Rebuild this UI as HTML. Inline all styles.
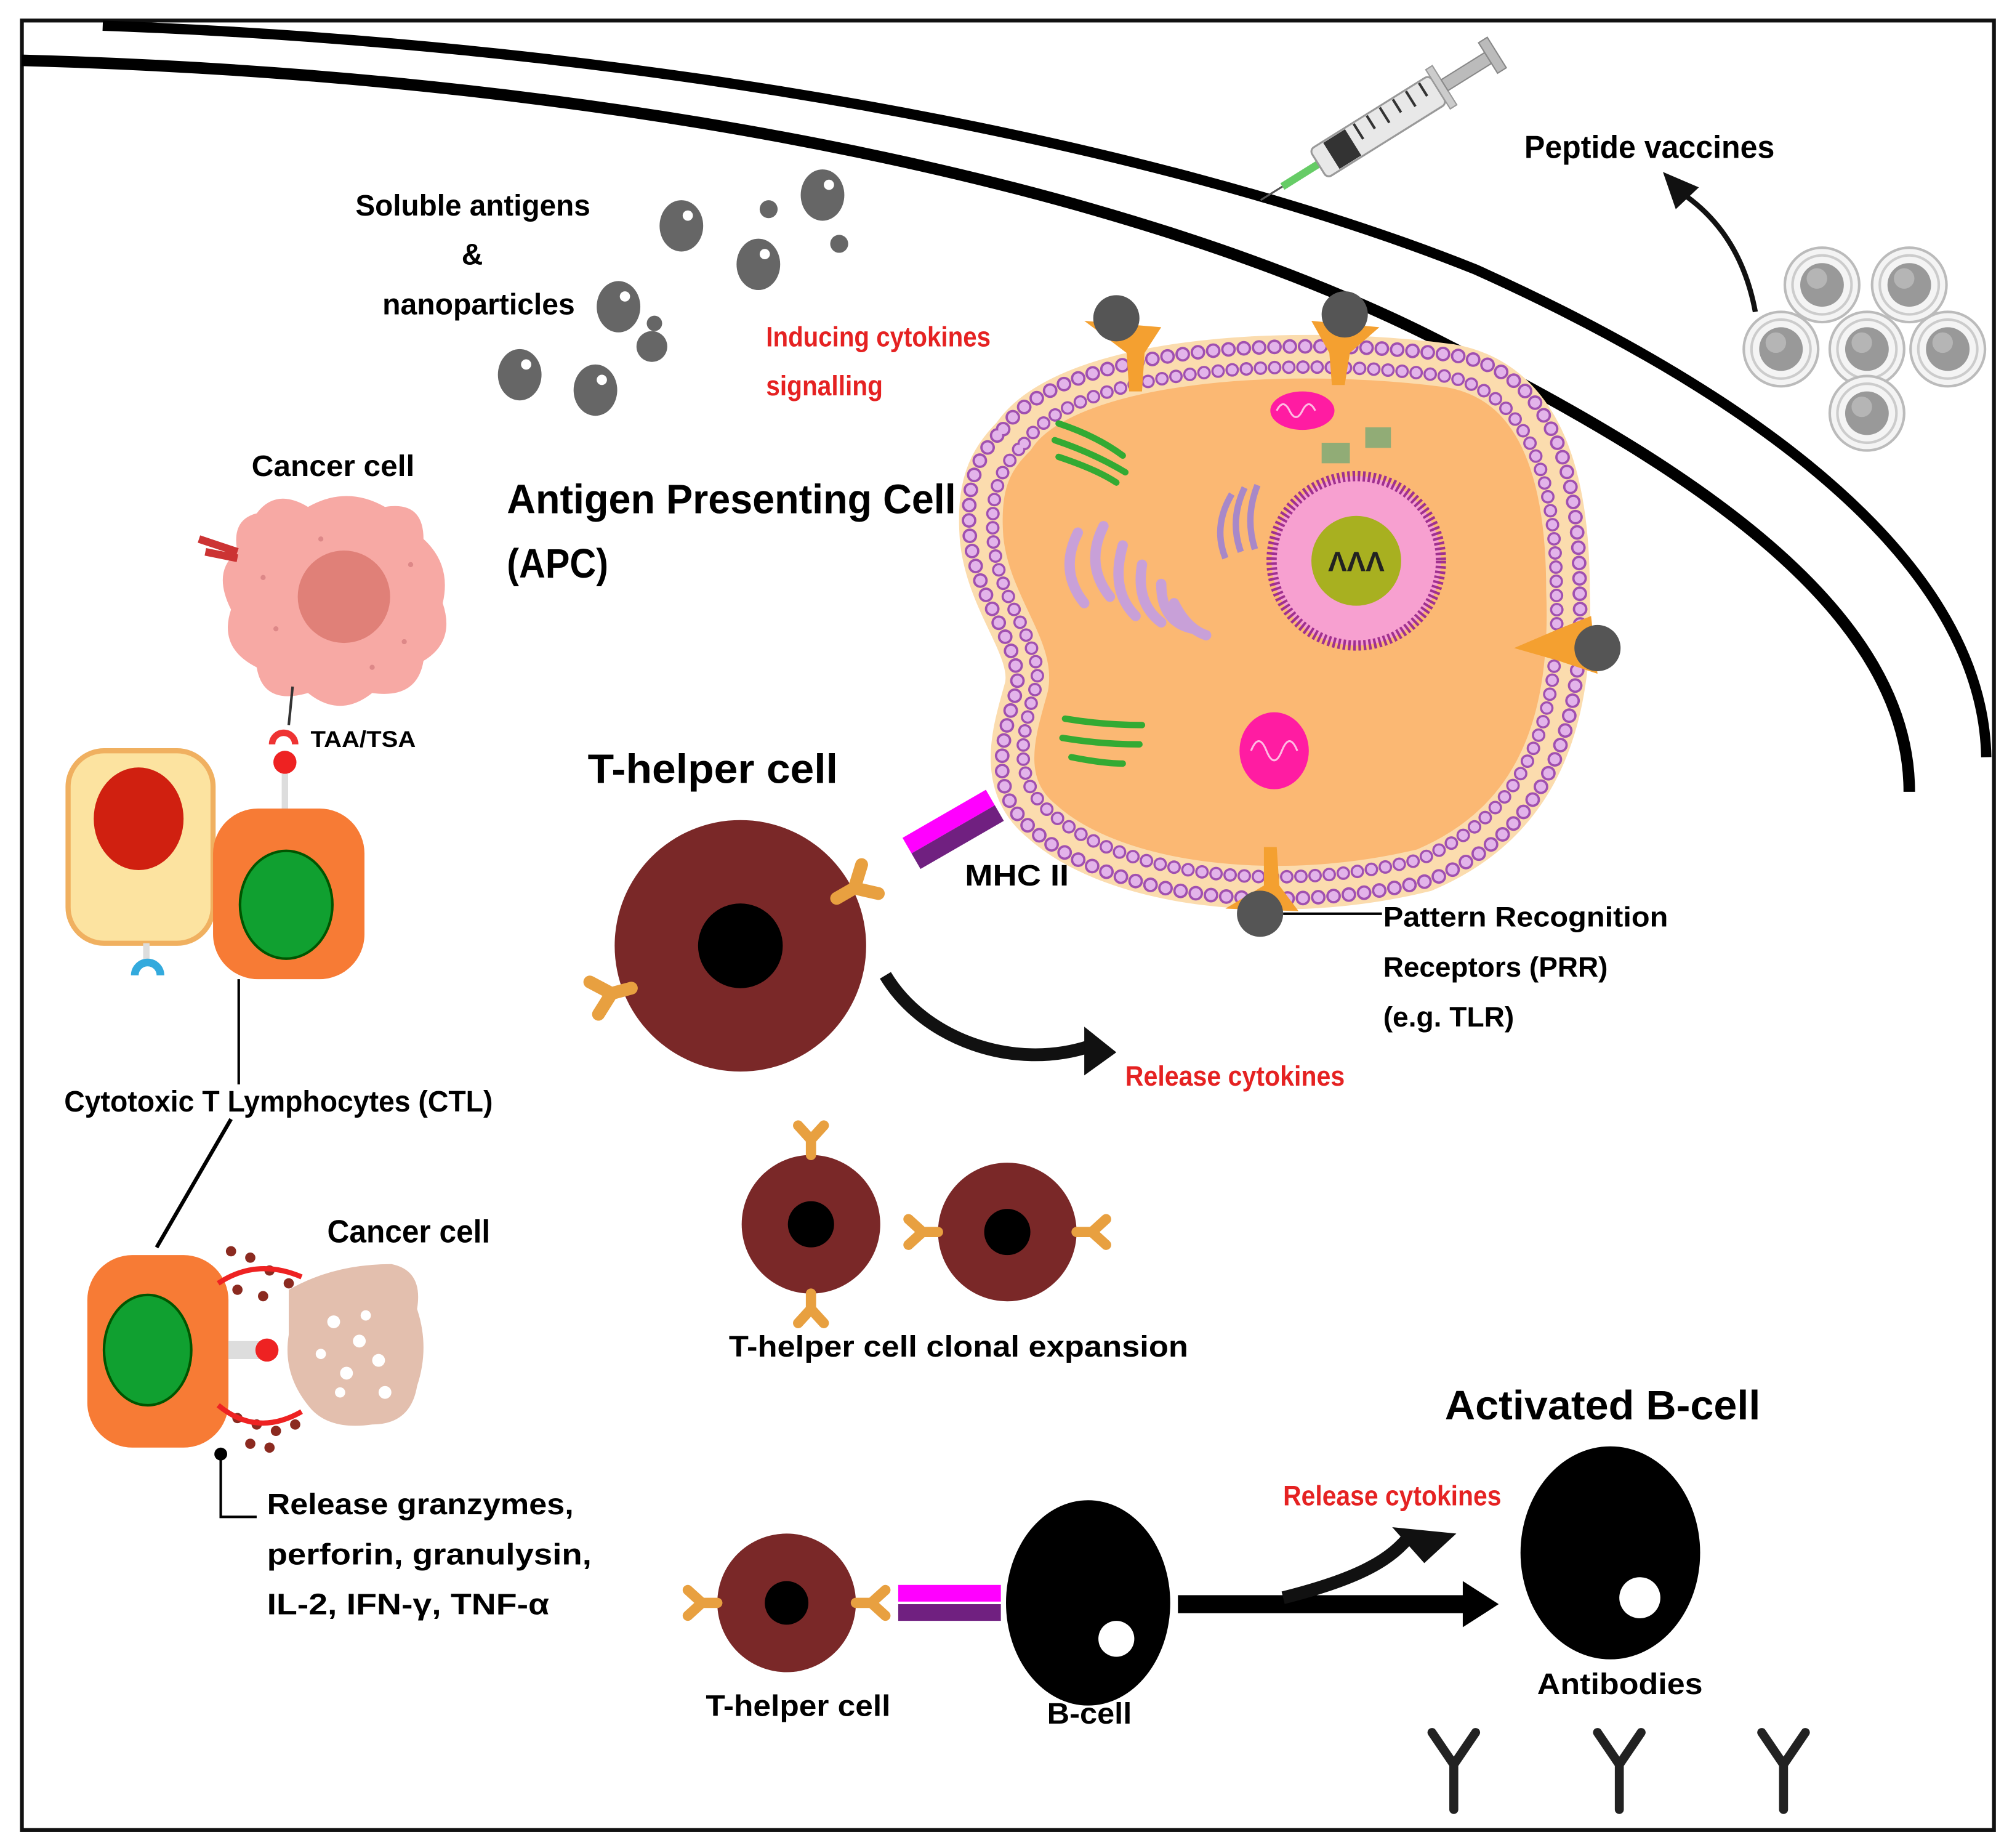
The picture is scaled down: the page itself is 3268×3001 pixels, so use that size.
<!DOCTYPE html>
<html><head><meta charset="utf-8"><style>
html,body{margin:0;padding:0;background:#fff;}
svg{display:block;}
text{font-family:"Liberation Sans Narrow","Liberation Sans",sans-serif;font-weight:bold;}
</style></head><body>
<svg width="3268" height="3001" viewBox="0 0 1568 1440" xmlns="http://www.w3.org/2000/svg">
<defs>
<g id="yr"><path d="M0,0 v-16 M0,-16 l-13,-14 M0,-16 l13,-14" fill="none" stroke="#e8a040" stroke-width="10" stroke-linecap="round"/></g>
<g id="ys"><path d="M0,0 v-12 M0,-12 l-10,-11 M0,-12 l10,-11" fill="none" stroke="#e8a040" stroke-width="8" stroke-linecap="round"/></g>
<g id="vp"><circle r="29" fill="#f4f4f4" stroke="#bbb" stroke-width="2"/><circle r="23" fill="none" stroke="#ccc" stroke-width="2"/><circle r="17" fill="#999"/><circle cx="-4" cy="-5" r="8" fill="#b5b5b5"/></g>
</defs>
<rect x="0" y="0" width="1568" height="1440" fill="#fff"/>
<rect x="17" y="16" width="1537" height="1410" fill="none" stroke="#111" stroke-width="3"/>
<!-- arcs -->
<path d="M80,20 C500,35 900,110 1150,210 C1350,300 1545,430 1548,590" fill="none" stroke="#000" stroke-width="8"/>
<path d="M17,47 C500,60 900,150 1130,270 C1330,370 1488,480 1488,617" fill="none" stroke="#000" stroke-width="9"/>
<!-- syringe -->
<g transform="translate(1080,95) rotate(-32)">
<line x1="-60" y1="0" x2="-95" y2="0" stroke="#6c6" stroke-width="6"/>
<line x1="-95" y1="0" x2="-115" y2="0" stroke="#555" stroke-width="1.5"/>
<rect x="-62" y="-13" width="110" height="26" rx="4" fill="#e8e8e8" stroke="#999" stroke-width="1.5"/>
<rect x="-50" y="-12" width="20" height="24" fill="#333"/>
<g stroke="#333" stroke-width="2"><line x1="-22" y1="-12" x2="-22" y2="2"/><line x1="-10" y1="-12" x2="-10" y2="0"/><line x1="2" y1="-12" x2="2" y2="2"/><line x1="14" y1="-12" x2="14" y2="0"/><line x1="26" y1="-12" x2="26" y2="2"/><line x1="38" y1="-12" x2="38" y2="0"/></g>
<rect x="48" y="-18" width="6" height="36" fill="#ccc" stroke="#999"/>
<rect x="54" y="-5" width="40" height="10" fill="#bbb" stroke="#888"/>
<rect x="94" y="-14" width="8" height="28" fill="#bbb" stroke="#888"/>
</g>
<text x="1188" y="123" font-size="25" textLength="195" lengthAdjust="spacingAndGlyphs">Peptide vaccines</text>
<path d="M1368,243 C1360,200 1340,170 1310,150" fill="none" stroke="#111" stroke-width="4"/>
<polygon points="1296,134 1324,146 1306,163" fill="#111"/>
<use href="#vp" x="1420" y="222"/><use href="#vp" x="1488" y="222"/>
<use href="#vp" x="1388" y="272"/><use href="#vp" x="1455" y="272"/><use href="#vp" x="1518" y="272"/>
<use href="#vp" x="1455" y="322"/>
<!-- soluble antigens -->
<text x="277" y="168" font-size="23" textLength="183" lengthAdjust="spacingAndGlyphs">Soluble antigens</text>
<text x="368" y="206" font-size="23" text-anchor="middle">&amp;</text>
<text x="298" y="245" font-size="23" textLength="150" lengthAdjust="spacingAndGlyphs">nanoparticles</text>
<g fill="#666">
<ellipse cx="531" cy="176" rx="17" ry="20"/><ellipse cx="641" cy="152" rx="17" ry="20"/><ellipse cx="591" cy="206" rx="17" ry="20"/>
<ellipse cx="482" cy="239" rx="17" ry="20"/><ellipse cx="405" cy="292" rx="17" ry="20"/><ellipse cx="464" cy="304" rx="17" ry="20"/>
<circle cx="599" cy="163" r="7"/><circle cx="654" cy="190" r="7"/><circle cx="510" cy="252" r="6"/><circle cx="508" cy="270" r="12"/>
</g>
<g fill="#fff"><circle cx="536" cy="168" r="4"/><circle cx="646" cy="144" r="4"/><circle cx="596" cy="198" r="4"/><circle cx="487" cy="231" r="4"/><circle cx="410" cy="284" r="4"/><circle cx="469" cy="296" r="4"/></g>
<text x="597" y="270" font-size="22" fill="#e52222" font-weight="normal" textLength="175" lengthAdjust="spacingAndGlyphs">Inducing cytokines</text>
<text x="597" y="308" font-size="22" fill="#e52222" font-weight="normal" textLength="91" lengthAdjust="spacingAndGlyphs">signalling</text>
<text x="395" y="400" font-size="32" textLength="350" lengthAdjust="spacingAndGlyphs">Antigen Presenting Cell</text>
<text x="395" y="450" font-size="32" textLength="79" lengthAdjust="spacingAndGlyphs">(APC)</text>
<!-- APC -->
<g>
<path d="M790,340 C830,280 1000,268 1130,285 C1205,298 1222,380 1222,460 C1226,560 1200,640 1110,678 C1000,705 870,692 812,640 C775,610 792,565 800,535 C806,505 770,470 765,420 C762,380 770,360 790,340 Z" fill="#fbb873" stroke="#fbdcae" stroke-width="34"/>
<g transform="translate(995,480) scale(1.04) translate(-995,-480)"><path d="M790,340 C830,280 1000,268 1130,285 C1205,298 1222,380 1222,460 C1226,560 1200,640 1110,678 C1000,705 870,692 812,640 C775,610 792,565 800,535 C806,505 770,470 765,420 C762,380 770,360 790,340 Z" fill="none" stroke="#a050b0" stroke-width="11" stroke-dasharray="0 11.5" stroke-linecap="round"/><path d="M790,340 C830,280 1000,268 1130,285 C1205,298 1222,380 1222,460 C1226,560 1200,640 1110,678 C1000,705 870,692 812,640 C775,610 792,565 800,535 C806,505 770,470 765,420 C762,380 770,360 790,340 Z" fill="none" stroke="#e3b4ea" stroke-width="7.5" stroke-dasharray="0 11.5" stroke-linecap="round"/></g>
<g transform="translate(995,480) scale(0.96) translate(-995,-480)"><path d="M790,340 C830,280 1000,268 1130,285 C1205,298 1222,380 1222,460 C1226,560 1200,640 1110,678 C1000,705 870,692 812,640 C775,610 792,565 800,535 C806,505 770,470 765,420 C762,380 770,360 790,340 Z" fill="none" stroke="#a050b0" stroke-width="11" stroke-dasharray="0 11.5" stroke-linecap="round"/><path d="M790,340 C830,280 1000,268 1130,285 C1205,298 1222,380 1222,460 C1226,560 1200,640 1110,678 C1000,705 870,692 812,640 C775,610 792,565 800,535 C806,505 770,470 765,420 C762,380 770,360 790,340 Z" fill="none" stroke="#e3b4ea" stroke-width="7.5" stroke-dasharray="0 11.5" stroke-linecap="round"/></g>
</g>
<!-- organelles -->
<ellipse cx="1015" cy="320" rx="25" ry="15" fill="#f0a" opacity=".85"/>
<ellipse cx="993" cy="585" rx="27" ry="30" fill="#f0a" opacity=".85"/>
<g fill="none" stroke="#fff" stroke-width="1.5" opacity=".7"><path d="M995,320 q5,-10 10,0 q5,10 10,0 q5,-10 10,0"/><path d="M975,585 q6,-15 12,0 q6,15 12,0 q6,-15 12,0"/></g>
<g fill="none" stroke="#3a3" stroke-width="5" stroke-linecap="round">
<path d="M825,330 q30,10 50,25"/><path d="M822,343 q30,10 55,25"/><path d="M825,356 q30,10 45,20"/>
<path d="M830,560 q30,5 60,5"/><path d="M828,575 q30,5 60,5"/><path d="M835,590 q25,5 40,5"/>
</g>
<g fill="#7a7" opacity=".8"><rect x="1030" y="345" width="22" height="16"/><rect x="1064" y="333" width="20" height="16"/></g>
<g fill="none" stroke="#c8a0d8" stroke-width="8" stroke-linecap="round">
<path d="M840,415 q-15,30 5,55"/><path d="M860,410 q-15,30 5,55"/><path d="M875,425 q-10,35 10,55"/><path d="M890,440 q-5,30 15,45"/><path d="M905,455 q0,30 25,35"/><path d="M915,470 q10,20 25,25"/>
</g>
<g fill="none" stroke="#a888c8" stroke-width="5">
<path d="M960,385 q-15,25 -5,50"/><path d="M970,380 q-12,25 -3,50"/><path d="M980,378 q-10,25 -2,50"/>
</g>
<circle cx="1057" cy="437" r="66" fill="#f7a0d0" stroke="#a03090" stroke-width="8" stroke-dasharray="2 2"/>
<circle cx="1057" cy="437" r="35" fill="#a8b020"/>
<text x="1057" y="445" font-size="22" text-anchor="middle" fill="#222" font-weight="normal">ΛΛΛ</text>
<!-- PRRs -->
<g fill="#f4a030">
<path d="M845,250 L905,255 L892,275 L890,305 L880,305 L878,275 Z"/>
<path d="M1022,250 L1075,255 L1052,275 L1048,300 L1038,300 L1036,275 Z"/>
<path d="M1180,505 L1215,490 L1240,480 L1245,525 L1215,515 Z"/>
<path d="M955,708 L985,690 L985,660 L995,660 L997,690 L1012,710 Z"/>
</g>
<g fill="#555"><circle cx="870" cy="248" r="18"/><circle cx="1048" cy="245" r="18"/><circle cx="1245" cy="505" r="18"/><circle cx="982" cy="712" r="18"/></g>
<line x1="1000" y1="712" x2="1077" y2="712" stroke="#000" stroke-width="2"/>
<text x="1078" y="722" font-size="22" textLength="222" lengthAdjust="spacingAndGlyphs">Pattern Recognition</text>
<text x="1078" y="761" font-size="22" textLength="175" lengthAdjust="spacingAndGlyphs">Receptors (PRR)</text>
<text x="1078" y="800" font-size="22" textLength="102" lengthAdjust="spacingAndGlyphs">(e.g. TLR)</text>
<!-- MHC II -->
<g transform="translate(745,645) rotate(-30)">
<rect x="-40" y="-14" width="75" height="14" fill="#f0f"/>
<rect x="-40" y="0" width="75" height="14" fill="#702080"/>
</g>
<text x="752" y="690" font-size="23" textLength="81" lengthAdjust="spacingAndGlyphs">MHC II</text>
<!-- T-helper -->
<text x="458" y="610" font-size="32" textLength="195" lengthAdjust="spacingAndGlyphs">T-helper cell</text>
<circle cx="577" cy="737" r="98" fill="#7a2828"/>
<circle cx="577" cy="737" r="33" fill="#000"/>
<use href="#yr" transform="translate(652,700) rotate(60)"/>
<use href="#yr" transform="translate(492,770) rotate(-105)"/>
<path d="M690,760 C720,810 790,835 850,815" fill="none" stroke="#111" stroke-width="10"/>
<polygon points="845,800 870,820 845,838" fill="#111"/>
<text x="877" y="846" font-size="22" fill="#e52222" font-weight="normal" textLength="171" lengthAdjust="spacingAndGlyphs">Release cytokines</text>
<!-- clonal expansion -->
<circle cx="632" cy="954" r="54" fill="#7a2828"/><circle cx="632" cy="954" r="18" fill="#000"/>
<circle cx="785" cy="960" r="54" fill="#7a2828"/><circle cx="785" cy="960" r="18" fill="#000"/>
<use href="#ys" transform="translate(632,900)"/>
<use href="#ys" transform="translate(632,1008) rotate(180)"/>
<use href="#ys" transform="translate(731,960) rotate(-90)"/>
<use href="#ys" transform="translate(839,960) rotate(90)"/>
<text x="568" y="1057" font-size="23" textLength="358" lengthAdjust="spacingAndGlyphs">T-helper cell clonal expansion</text>
<!-- bottom -->
<text x="1126" y="1106" font-size="32" textLength="246" lengthAdjust="spacingAndGlyphs">Activated B-cell</text>
<circle cx="613" cy="1249" r="54" fill="#7a2828"/><circle cx="613" cy="1249" r="17" fill="#000"/>
<use href="#ys" transform="translate(559,1249) rotate(-90)"/>
<use href="#ys" transform="translate(667,1249) rotate(90)"/>
<rect x="700" y="1235" width="80" height="13" fill="#f0f"/>
<rect x="700" y="1250" width="80" height="13" fill="#702080"/>
<ellipse cx="848" cy="1249" rx="64" ry="80" fill="#000"/>
<circle cx="870" cy="1277" r="14" fill="#fff"/>
<text x="550" y="1337" font-size="23" textLength="144" lengthAdjust="spacingAndGlyphs">T-helper cell</text>
<text x="816" y="1343" font-size="23" textLength="66" lengthAdjust="spacingAndGlyphs">B-cell</text>
<rect x="918" y="1243" width="225" height="14" fill="#000"/>
<polygon points="1140,1232 1168,1250 1140,1268" fill="#000"/>
<path d="M1000,1245 C1060,1230 1085,1215 1100,1195" fill="none" stroke="#111" stroke-width="10"/>
<polygon points="1085,1190 1135,1195 1110,1218" fill="#111"/>
<text x="1000" y="1173" font-size="22" fill="#e52222" font-weight="normal" textLength="170" lengthAdjust="spacingAndGlyphs">Release cytokines</text>
<ellipse cx="1255" cy="1210" rx="70" ry="83" fill="#000"/>
<circle cx="1278" cy="1245" r="16" fill="#fff"/>
<text x="1198" y="1320" font-size="23" textLength="129" lengthAdjust="spacingAndGlyphs">Antibodies</text>
<g fill="none" stroke="#222" stroke-width="7" stroke-linecap="round">
<path d="M1133,1410 v-35 l-17,-25 M1133,1375 l17,-25"/>
<path d="M1262,1410 v-35 l-17,-25 M1262,1375 l17,-25"/>
<path d="M1390,1410 v-35 l-17,-25 M1390,1375 l17,-25"/>
</g>
<!-- left side -->
<text x="196" y="371" font-size="23" textLength="127" lengthAdjust="spacingAndGlyphs">Cancer cell</text>
<path d="M200,400 Q215,380 240,395 Q270,378 300,395 Q330,390 330,420 Q352,440 345,470 Q355,500 330,515 Q325,545 290,540 Q265,560 240,540 Q205,550 200,520 Q170,505 180,475 Q165,445 185,430 Q180,405 200,400 Z" fill="#f7a9a4"/>
<circle cx="268" cy="465" r="36" fill="#e08078"/>
<g fill="#d88"><circle cx="205" cy="450" r="2"/><circle cx="215" cy="490" r="2"/><circle cx="320" cy="440" r="2"/><circle cx="315" cy="500" r="2"/><circle cx="250" cy="420" r="2"/><circle cx="290" cy="520" r="2"/></g>
<path d="M155,420 l30,10 M160,430 l25,5" stroke="#c33" stroke-width="6"/>
<line x1="228" y1="535" x2="225" y2="565" stroke="#333" stroke-width="2"/>
<path d="M212,580 a9,9 0 0 1 18,0" fill="none" stroke="#e33" stroke-width="5"/>
<text x="242" y="582" font-size="18" textLength="82" lengthAdjust="spacingAndGlyphs">TAA/TSA</text>
<rect x="53" y="585" width="113" height="150" rx="28" fill="#fce3a0" stroke="#f0b060" stroke-width="4"/>
<ellipse cx="108" cy="638" rx="35" ry="40" fill="#d02010"/>
<line x1="114" y1="735" x2="114" y2="752" stroke="#ddd" stroke-width="5"/>
<path d="M105,760 a10,10 0 0 1 20,0" fill="none" stroke="#3ad" stroke-width="6"/>
<rect x="166" y="630" width="118" height="133" rx="35" fill="#f77b35"/>
<ellipse cx="223" cy="705" rx="36" ry="42" fill="#10a030" stroke="#050" stroke-width="2"/>
<line x1="222" y1="603" x2="222" y2="630" stroke="#ddd" stroke-width="5"/>
<circle cx="222" cy="594" r="9" fill="#e22"/>
<line x1="186" y1="763" x2="186" y2="845" stroke="#000" stroke-width="2"/>
<text x="50" y="866" font-size="23" textLength="334" lengthAdjust="spacingAndGlyphs">Cytotoxic T Lymphocytes (CTL)</text>
<line x1="180" y1="872" x2="122" y2="972" stroke="#000" stroke-width="3"/>
<text x="255" y="968" font-size="25" textLength="127" lengthAdjust="spacingAndGlyphs">Cancer cell</text>
<rect x="68" y="978" width="110" height="150" rx="35" fill="#f77b35"/>
<ellipse cx="115" cy="1052" rx="34" ry="43" fill="#10a030" stroke="#050" stroke-width="2"/>
<rect x="178" y="1045" width="25" height="14" fill="#ddd"/>
<circle cx="208" cy="1052" r="9" fill="#e22"/>
<path d="M225,1005 Q260,985 305,985 Q330,990 325,1020 Q335,1050 325,1080 Q320,1110 290,1110 Q255,1115 240,1095 Q220,1070 225,1040 Z" fill="#e3bfae"/>
<g fill="#fff"><circle cx="260" cy="1030" r="5"/><circle cx="280" cy="1045" r="5"/><circle cx="295" cy="1060" r="5"/><circle cx="270" cy="1070" r="5"/><circle cx="300" cy="1085" r="5"/><circle cx="250" cy="1055" r="4"/><circle cx="285" cy="1025" r="4"/><circle cx="265" cy="1085" r="4"/></g>
<g fill="#8b2a20">
<circle cx="180" cy="975" r="4"/><circle cx="195" cy="980" r="4"/><circle cx="210" cy="990" r="4"/><circle cx="185" cy="1005" r="4"/><circle cx="205" cy="1010" r="4"/><circle cx="225" cy="1000" r="4"/>
<circle cx="185" cy="1105" r="4"/><circle cx="200" cy="1110" r="4"/><circle cx="215" cy="1115" r="4"/><circle cx="195" cy="1125" r="4"/><circle cx="210" cy="1128" r="4"/><circle cx="230" cy="1110" r="4"/>
</g>
<path d="M170,1000 Q200,980 235,995" fill="none" stroke="#e22" stroke-width="4"/>
<path d="M170,1095 Q200,1120 235,1100" fill="none" stroke="#e22" stroke-width="4"/>
<circle cx="172" cy="1133" r="5" fill="#000"/>
<polyline points="172,1133 172,1182 200,1182" fill="none" stroke="#000" stroke-width="2"/>
<text x="208" y="1180" font-size="23" textLength="239" lengthAdjust="spacingAndGlyphs">Release granzymes,</text>
<text x="208" y="1219" font-size="23" textLength="253" lengthAdjust="spacingAndGlyphs">perforin, granulysin,</text>
<text x="208" y="1258" font-size="23" textLength="220" lengthAdjust="spacingAndGlyphs">IL-2, IFN-γ, TNF-α</text>
</svg>
</body></html>
